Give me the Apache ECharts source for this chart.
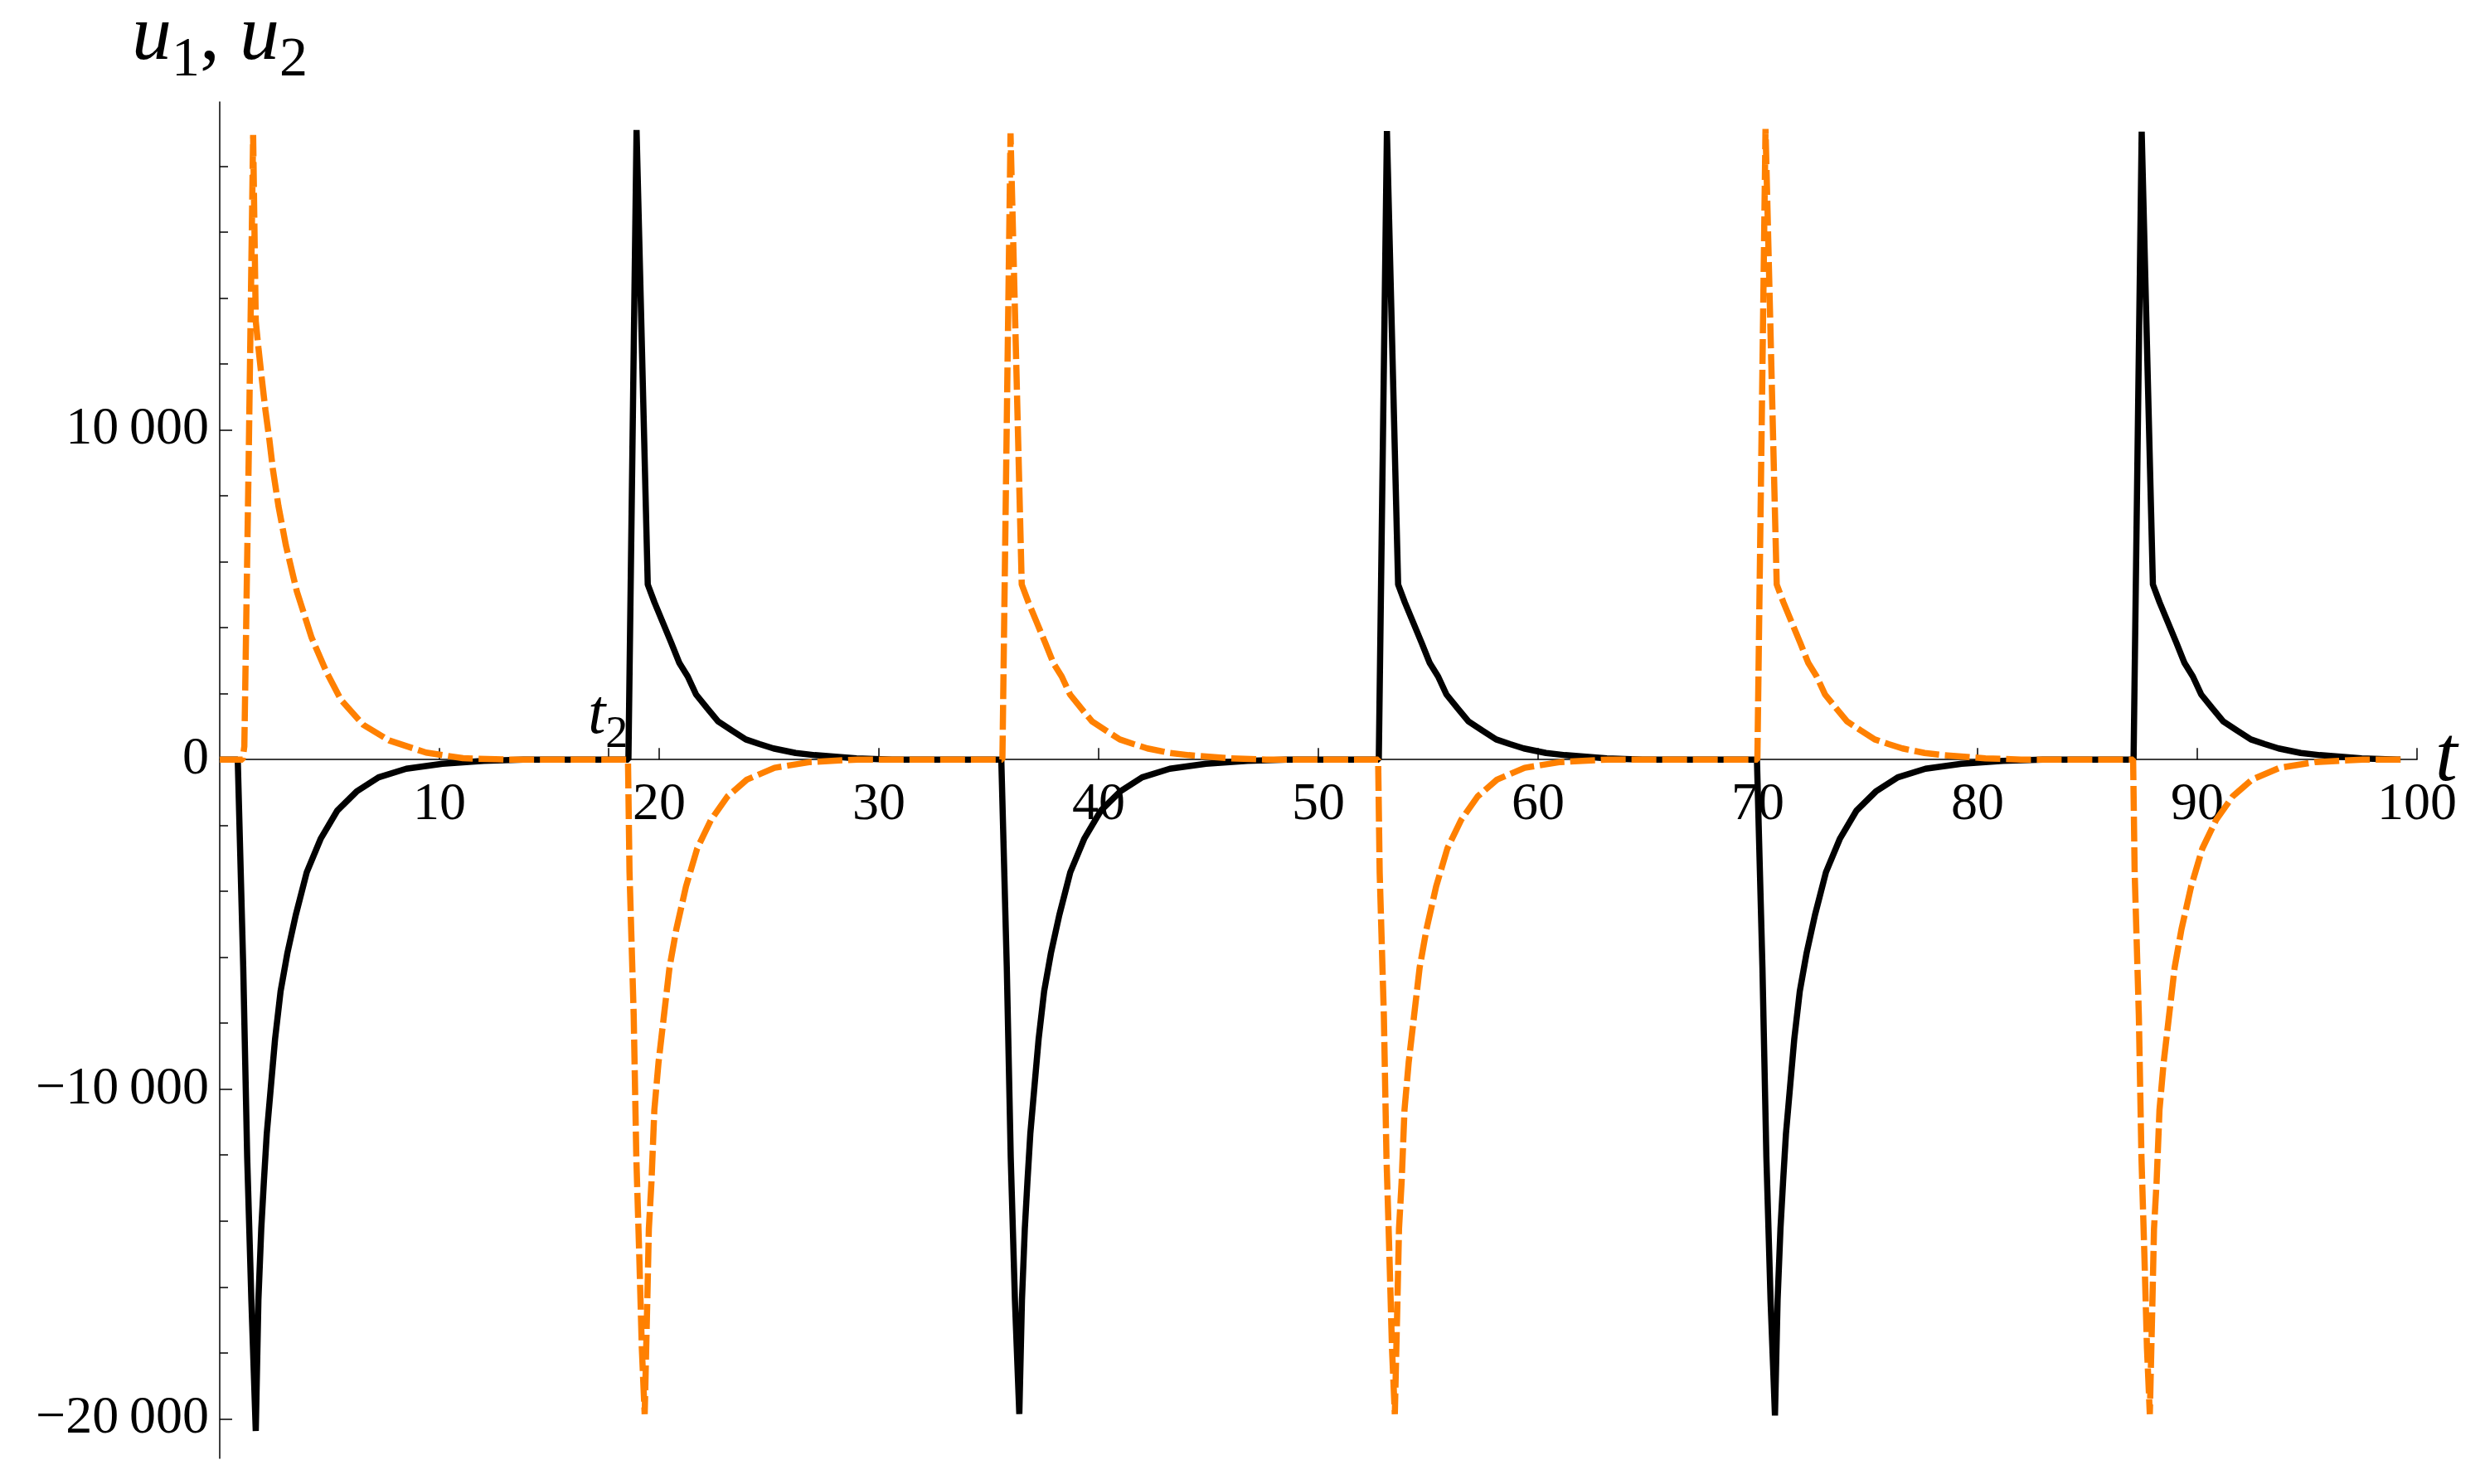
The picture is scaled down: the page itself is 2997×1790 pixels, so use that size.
<!DOCTYPE html>
<html><head><meta charset="utf-8">
<script src="https://cdn.jsdelivr.net/npm/echarts@6/dist/echarts.min.js"></script>
<style>html,body{margin:0;padding:0;background:#fff}#c{width:2997px;height:1790px}</style>
</head><body><div id="c"></div>
<script>
// ---- axis ticks / labels ----
const X_TICKS = [10, 20, 30, 40, 50, 60, 70, 80, 90, 100];
const T2_TICK = 17.67;
const Y_MIN = -21200, Y_MAX = 19950;
const Y_MAJOR = [-20000, -10000, 0, 10000];
const Y_MAJOR_LABELS = ['\u221220\u2009000', '\u221210\u2009000', '0', '10\u2009000'];
const Y_MINOR = [-20000, -18000, -16000, -14000, -12000, -10000, -8000, -6000, -4000, -2000, 0,
                 2000, 4000, 6000, 8000, 10000, 12000, 14000, 16000, 18000];
const T_END = 99.25;

// ---- pulse onsets ----
const U1_NEG_ONSET = [0.82, 35.57, 69.96];
const U1_NEG_PEAK = [-20370, -19860, -19900];
const U1_POS_ONSET = [18.6, 52.75, 87.1];
const U1_POS_PEAK = [19100, 19070, 19050];
const U2_NEG_ONSET = [18.58, 52.72, 87.08];
const U2_NEG_PEAK = [-19860, -19860, -19860];
const U2_POS_ONSET = [35.62, 69.98];
const U2_POS_PEAK = [19000, 19130];

// ---- pulse shapes: time after onset, value (null = peak of that cycle) ----
const NEG1_DT = [0, 0.25, 0.43, 0.62, 0.82, 0.94, 1.07, 1.19, 1.32, 1.51, 1.70, 1.95, 2.26, 2.64, 3.14, 3.77, 4.53, 5.41, 6.41, 7.67, 9.31, 11.2, 13.0];
const NEG1_V  = [0, -6310, -12080, -16400, null, -16400, -14240, -12800, -11360, -9910, -8470, -7030, -5870, -4720, -3420, -2410, -1550, -970, -540, -280, -130, -40, 0];
const NEG2_DT = [0, 0.07, 0.26, 0.38, 0.51, 0.63, 0.76, 0.88, 0.95, 1.07, 1.20, 1.39, 1.64, 1.89, 2.20, 2.64, 3.15, 3.78, 4.53, 5.41, 6.67, 8.30, 10.45];
const NEG2_V  = [0, -3420, -7750, -12080, -14960, -17850, null, -16400, -14240, -12800, -10630, -9190, -7750, -6310, -5150, -3850, -2700, -1830, -1120, -610, -250, -75, 0];
const POS_DT = [0, 0.37, 0.88, 1.19, 1.57, 1.95, 2.32, 2.70, 3.08, 3.58, 4.08, 4.71, 5.34, 5.97, 6.60, 7.61, 8.48, 10.38, 12.0];
const POS_V  = [0, null, 5310, 4760, 4150, 3540, 2925, 2520, 1972, 1560, 1156, 880, 610, 470, 337, 200, 133, 38, 0];

// first u2 pulse (different shape, initial condition)
const U2_FIRST_T = [1.04, 1.12, 1.32, 1.52, 1.64, 1.76, 1.89, 2.08, 2.26, 2.42, 2.67, 3.01, 3.51, 4.18, 4.86, 5.53, 6.54, 7.71, 9.39, 11.07, 13.0];
const U2_FIRST_V = [0, 400, 9200, 18950, 13300, 12500, 11700, 10600, 9700, 8800, 7700, 6500, 5100, 3700, 2650, 1800, 1050, 580, 210, 40, 0];

function pulse(out, onset, dts, vals, peak) {
  for (let i = 0; i < dts.length; i++) {
    out.push([+(onset + dts[i]).toFixed(3), vals[i] === null ? peak : vals[i]]);
  }
}

const u1 = [[0, 0]];
for (let k = 0; k < 3; k++) {
  pulse(u1, U1_NEG_ONSET[k], NEG1_DT, NEG1_V, U1_NEG_PEAK[k]);
  pulse(u1, U1_POS_ONSET[k], POS_DT, POS_V, U1_POS_PEAK[k]);
}
u1.push([T_END, 0]);

const u2 = [[0, 0]];
for (let i = 0; i < U2_FIRST_T.length; i++) u2.push([U2_FIRST_T[i], U2_FIRST_V[i]]);
pulse(u2, U2_NEG_ONSET[0], NEG2_DT, NEG2_V, U2_NEG_PEAK[0]);
pulse(u2, U2_POS_ONSET[0], POS_DT, POS_V, U2_POS_PEAK[0]);
pulse(u2, U2_NEG_ONSET[1], NEG2_DT, NEG2_V, U2_NEG_PEAK[1]);
pulse(u2, U2_POS_ONSET[1], POS_DT, POS_V, U2_POS_PEAK[1]);
pulse(u2, U2_NEG_ONSET[2], NEG2_DT, NEG2_V, U2_NEG_PEAK[2]);
u2.push([T_END, 0]);

const F = 'Liberation Serif';
const chart = echarts.init(document.getElementById('c'), null, {renderer: 'canvas'});
chart.setOption({
  animation: false,
  backgroundColor: '#fff',
  grid: {left: 265, right: 82, top: 123, bottom: 31, containLabel: false, outerBoundsMode: 'none'},
  xAxis: {
    type: 'value', min: 0, max: 100, position: 'bottom', offset: 0,
    axisLine: {onZero: false, lineStyle: {color: '#000', width: 1.5}},
    axisTick: {show: true, inside: true, length: 14, customValues: X_TICKS.concat([T2_TICK]), lineStyle: {color: '#000', width: 1.5}},
    axisLabel: {customValues: X_TICKS, fontSize: 64, fontFamily: F, color: '#000', margin: 23, hideOverlap: false},
    splitLine: {show: false},
    name: 't', nameLocation: 'end', nameGap: 22, nameMoveOverlap: false,
    nameTextStyle: {fontSize: 96, fontStyle: 'italic', fontFamily: F, color: '#000', padding: [60, 0, 0, 0]}
  },
  yAxis: [{
    type: 'value', min: Y_MIN, max: Y_MAX,
    axisLine: {show: true, onZero: false, lineStyle: {color: '#000', width: 1.5}},
    axisTick: {show: true, inside: true, length: 15, customValues: Y_MAJOR, lineStyle: {color: '#000', width: 1.5}},
    axisLabel: {customValues: Y_MAJOR, fontSize: 64, fontFamily: F, color: '#000', margin: 13,
      formatter: v => Y_MAJOR_LABELS[Y_MAJOR.indexOf(v)]},
    splitLine: {show: false},
    name: '{u|u}{s|1}{c|, }{u|u}{s|2}', nameLocation: 'end', nameGap: 16, nameMoveOverlap: false,
    nameTextStyle: {rich: {
      u: {fontSize: 96, lineHeight: 96, fontStyle: 'italic', fontFamily: F, color: '#000', verticalAlign: 'bottom', padding: [0, 0, 13, 0]},
      c: {fontSize: 96, lineHeight: 96, fontFamily: F, color: '#000', verticalAlign: 'bottom', padding: [0, 0, 13, 0]},
      s: {fontSize: 68, lineHeight: 68, fontFamily: F, color: '#000', verticalAlign: 'bottom'}
    }}
  }, {
    type: 'value', min: Y_MIN, max: Y_MAX, position: 'left',
    axisLine: {show: false},
    axisTick: {show: true, inside: true, length: 10, customValues: Y_MINOR, lineStyle: {color: '#000', width: 1.5}},
    axisLabel: {show: false},
    splitLine: {show: false}
  }],
  series: [{
    name: 'u1', type: 'line', data: u1, showSymbol: false, symbol: 'none',
    lineStyle: {color: '#000', width: 7.5, join: 'bevel', cap: 'butt'},
    z: 2,
    markPoint: {
      symbol: 'circle', symbolSize: 1, itemStyle: {color: 'rgba(0,0,0,0)'}, silent: true,
      data: [{coord: [T2_TICK, 0]}],
      label: {show: true, position: 'top', distance: 2, formatter: '{t|t}{s|2}',
        rich: {
          t: {fontSize: 76, lineHeight: 76, fontStyle: 'italic', fontFamily: F, color: '#000', verticalAlign: 'bottom', padding: [0, 0, 12, 0]},
          s: {fontSize: 54, lineHeight: 54, fontFamily: F, color: '#000', verticalAlign: 'bottom'}
        }}
    }
  }, {
    name: 'u2', type: 'line', data: u2, showSymbol: false, symbol: 'none',
    lineStyle: {color: '#FF8000', width: 7.5, type: [30, 7], join: 'bevel', cap: 'butt'},
    z: 3
  }]
});
// put the t axis on the line u = 0 (pixel distance of 0 from the grid bottom)
const yZero = chart.convertToPixel({yAxisIndex: 0}, 0);
const yBottom = chart.convertToPixel({yAxisIndex: 0}, Y_MIN);
chart.setOption({xAxis: {offset: -(yBottom - yZero)}});
</script></body></html>
